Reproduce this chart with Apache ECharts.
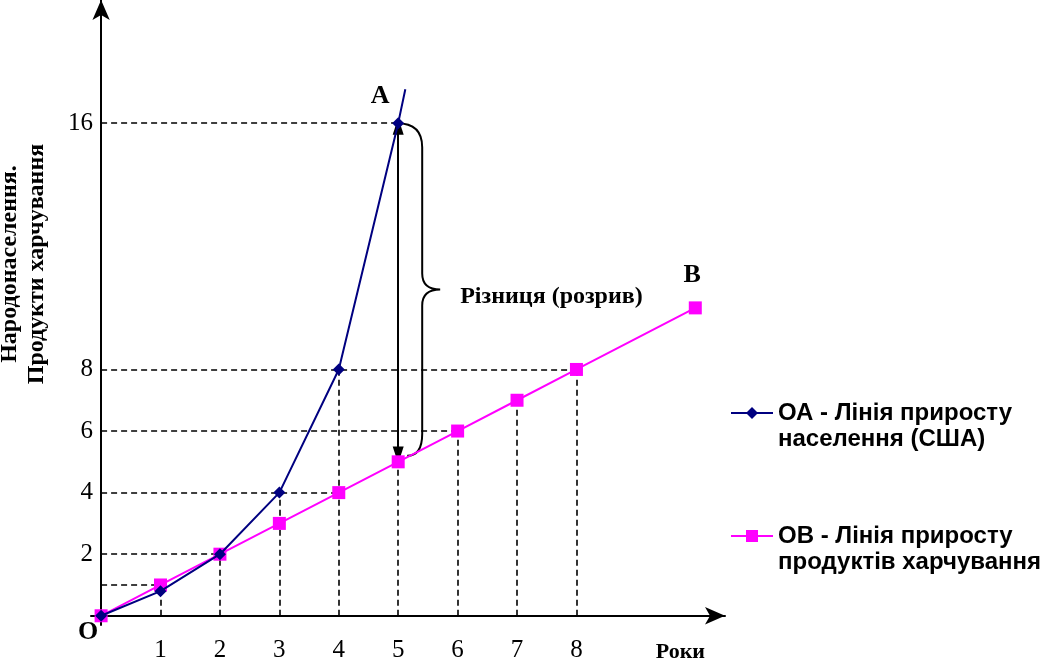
<!DOCTYPE html>
<html lang="uk">
<head>
    <meta charset="UTF-8">
    <script src="https://cdn.jsdelivr.net/npm/echarts@6/dist/echarts.min.js"></script>
    <title>Лінії приросту</title>
    <style>
        html, body { margin: 0; padding: 0; background: #ffffff; }
        #chart { width: 1056px; height: 661px; }
    </style>
</head>
<body>
    <div id="chart"></div>
    <script>
        // дані
        var foodYears = [0, 1, 2, 3, 4, 5, 6, 7, 8, 10];
        var foodValues = [0, 1, 2, 3, 4, 5, 6, 7, 8, 10];
        var popYears = [0, 1, 2, 3, 4, 5];
        var popValues = [0, 0.8, 2, 4, 8, 16];
        var popLineEnd = [5.12, 17.1];   // продовження лінії ОА за точку A

        var xTickLabels = [1, 2, 3, 4, 5, 6, 7, 8];
        var yTickLabels = [2, 4, 6, 8, 16];

        // пунктирні допоміжні лінії
        var guideXs = [1, 2, 3, 4, 5, 6, 7, 8];
        var guideXTops = [0.8, 2, 4, 8, 5, 6, 7, 8];
        var guideYs = [1, 2, 4, 6, 8, 16];
        var guideYEnds = [1, 2, 4, 6, 8, 5];

        // розрив між лініями
        var gapYear = 5;
        var gapLow = 5;
        var gapHigh = 16;

        var nameOA = 'ОА - Лінія приросту\nнаселення (США)';
        var nameOB = 'ОВ - Лінія приросту\nпродуктів харчування';

        var serif = '"Liberation Serif", "DejaVu Serif", serif';
        var sans = '"Liberation Sans", Arial, sans-serif';

        var popData = popYears.map(function (x, i) { return [x, popValues[i]]; });
        popData.push({ value: popLineEnd, symbol: 'none' });
        var foodData = foodYears.map(function (x, i) { return [x, foodValues[i]]; });

        var guides = [];
        guideXs.forEach(function (x, i) {
            guides.push([{ coord: [x, 0] }, { coord: [x, guideXTops[i]] }]);
        });
        guideYs.forEach(function (y, i) {
            guides.push([{ coord: [0, y] }, { coord: [guideYEnds[i], y] }]);
        });
        // двостороння стрілка
        guides.push([
            { coord: [gapYear, gapLow + 0.22], symbol: 'triangle', symbolSize: [11, 17],
              lineStyle: { type: 'solid', width: 2 } },
            { coord: [gapYear, gapHigh - 0.1], symbol: 'triangle', symbolSize: [11, 17] }
        ]);

        var chart = echarts.init(document.getElementById('chart'));

        var option = {
            animation: false,
            backgroundColor: '#ffffff',
            grid: { left: 91, right: 331, top: 0, bottom: 36, containLabel: false, outerBoundsMode: 'none' },
            legend: {
                orient: 'vertical',
                left: 730,
                top: 374,
                padding: 0,
                itemGap: 45,
                itemWidth: 42,
                itemHeight: 15,
                data: [nameOA, nameOB],
                // порожній перший рядок, щоб значок стояв навпроти першого рядка підпису
                formatter: function (name) { return '\n' + name; },
                textStyle: {
                    fontFamily: sans,
                    fontWeight: 'bold',
                    fontSize: 24,
                    lineHeight: 26,
                    color: '#000'
                }
            },
            xAxis: {
                type: 'value',
                min: -0.17,
                max: 10.5,
                splitLine: { show: false },
                axisTick: { show: false },
                axisLine: {
                    onZero: true,
                    symbol: ['none', 'arrow'],
                    symbolSize: [13, 20],
                    lineStyle: { color: '#000', width: 2 }
                },
                axisLabel: {
                    margin: 13,
                    color: '#000',
                    fontFamily: serif,
                    fontSize: 25,
                    customValues: xTickLabels
                },
                name: 'Роки',
                nameLocation: 'end',
                nameGap: -20,
                nameTextStyle: {
                    fontFamily: serif,
                    fontWeight: 'bold',
                    fontSize: 22,
                    color: '#000',
                    align: 'right',
                    verticalAlign: 'top',
                    padding: [26, 0, 0, 0]
                }
            },
            yAxis: {
                type: 'value',
                min: -0.3,
                max: 20,
                splitLine: { show: false },
                axisTick: { show: false },
                axisLine: {
                    onZero: true,
                    symbol: ['none', 'arrow'],
                    symbolSize: [13, 20],
                    lineStyle: { color: '#000', width: 2 }
                },
                axisLabel: {
                    margin: -2,
                    color: '#000',
                    fontFamily: serif,
                    fontSize: 25,
                    customValues: yTickLabels
                },
                name: 'Народонаселення.\nПродукти харчування',
                nameLocation: 'middle',
                nameRotate: 90,
                nameGap: 41,
                nameTextStyle: {
                    fontFamily: serif,
                    fontWeight: 'bold',
                    fontSize: 24,
                    lineHeight: 27,
                    color: '#000',
                    padding: [0, 0, 0, 97]
                }
            },
            series: [
                {
                    name: nameOB,
                    type: 'line',
                    data: foodData,
                    symbol: 'rect',
                    symbolSize: 13,
                    z: 3,
                    itemStyle: { color: '#ff00ff' },
                    lineStyle: { color: '#ff00ff', width: 2 },
                    markLine: {
                        silent: true,
                        symbol: 'none',
                        z: 1,
                        label: { show: false },
                        lineStyle: { color: '#000', width: 1.6, type: [6, 4] },
                        data: guides
                    },
                    markPoint: {
                        symbol: 'circle',
                        symbolSize: 1,
                        itemStyle: { color: 'rgba(0,0,0,0)' },
                        label: {
                            show: true,
                            color: '#000',
                            fontFamily: serif,
                            fontWeight: 'bold',
                            fontSize: 26
                        },
                        data: [
                            { coord: [0, 0], label: { formatter: 'O', offset: [-13, 17] } },
                            { coord: [10, 10], label: { formatter: 'B', offset: [-3, -33] } }
                        ]
                    }
                },
                {
                    name: nameOA,
                    type: 'line',
                    data: popData,
                    symbol: 'diamond',
                    symbolSize: 12,
                    z: 4,
                    itemStyle: { color: '#000080' },
                    lineStyle: { color: '#000080', width: 2 },
                    markPoint: {
                        symbol: 'circle',
                        symbolSize: 1,
                        itemStyle: { color: 'rgba(0,0,0,0)' },
                        label: {
                            show: true,
                            color: '#000',
                            fontFamily: serif,
                            fontWeight: 'bold',
                            fontSize: 26
                        },
                        data: [
                            { coord: [5, 16], label: { formatter: 'A', offset: [-18, -27] } }
                        ]
                    }
                },
                {
                    // фігурна дужка та підпис розриву
                    type: 'custom',
                    coordinateSystem: 'cartesian2d',
                    silent: true,
                    z: 2,
                    data: [[gapYear, gapHigh, gapLow + 0.2]],
                    renderItem: function (params, api) {
                        var top = api.coord([api.value(0), api.value(1)]);
                        var bot = api.coord([api.value(0), api.value(2)]);
                        var x0 = top[0] - 1, y0 = top[1], y1 = bot[1];
                        var ym = (y0 + y1) / 2;
                        var xb = x0 + 25, xt = x0 + 43;
                        var d = 'M' + x0 + ' ' + y0 +
                            ' Q' + xb + ' ' + y0 + ' ' + xb + ' ' + (y0 + 24) +
                            ' L' + xb + ' ' + (ym - 16) +
                            ' Q' + xb + ' ' + ym + ' ' + xt + ' ' + ym +
                            ' Q' + xb + ' ' + ym + ' ' + xb + ' ' + (ym + 16) +
                            ' L' + xb + ' ' + (y1 - 22) +
                            ' Q' + xb + ' ' + y1 + ' ' + (x0 + 10) + ' ' + y1;
                        return {
                            type: 'group',
                            children: [
                                {
                                    type: 'path',
                                    shape: { pathData: d },
                                    style: { fill: 'none', stroke: '#000', lineWidth: 2 }
                                },
                                {
                                    type: 'text',
                                    style: {
                                        text: 'Різниця (розрив)',
                                        x: x0 + 63,
                                        y: ym + 7,
                                        align: 'left',
                                        verticalAlign: 'middle',
                                        font: 'bold 24px ' + serif,
                                        fill: '#000'
                                    }
                                }
                            ]
                        };
                    }
                }
            ]
        };

        chart.setOption(option);
    </script>
</body>
</html>
